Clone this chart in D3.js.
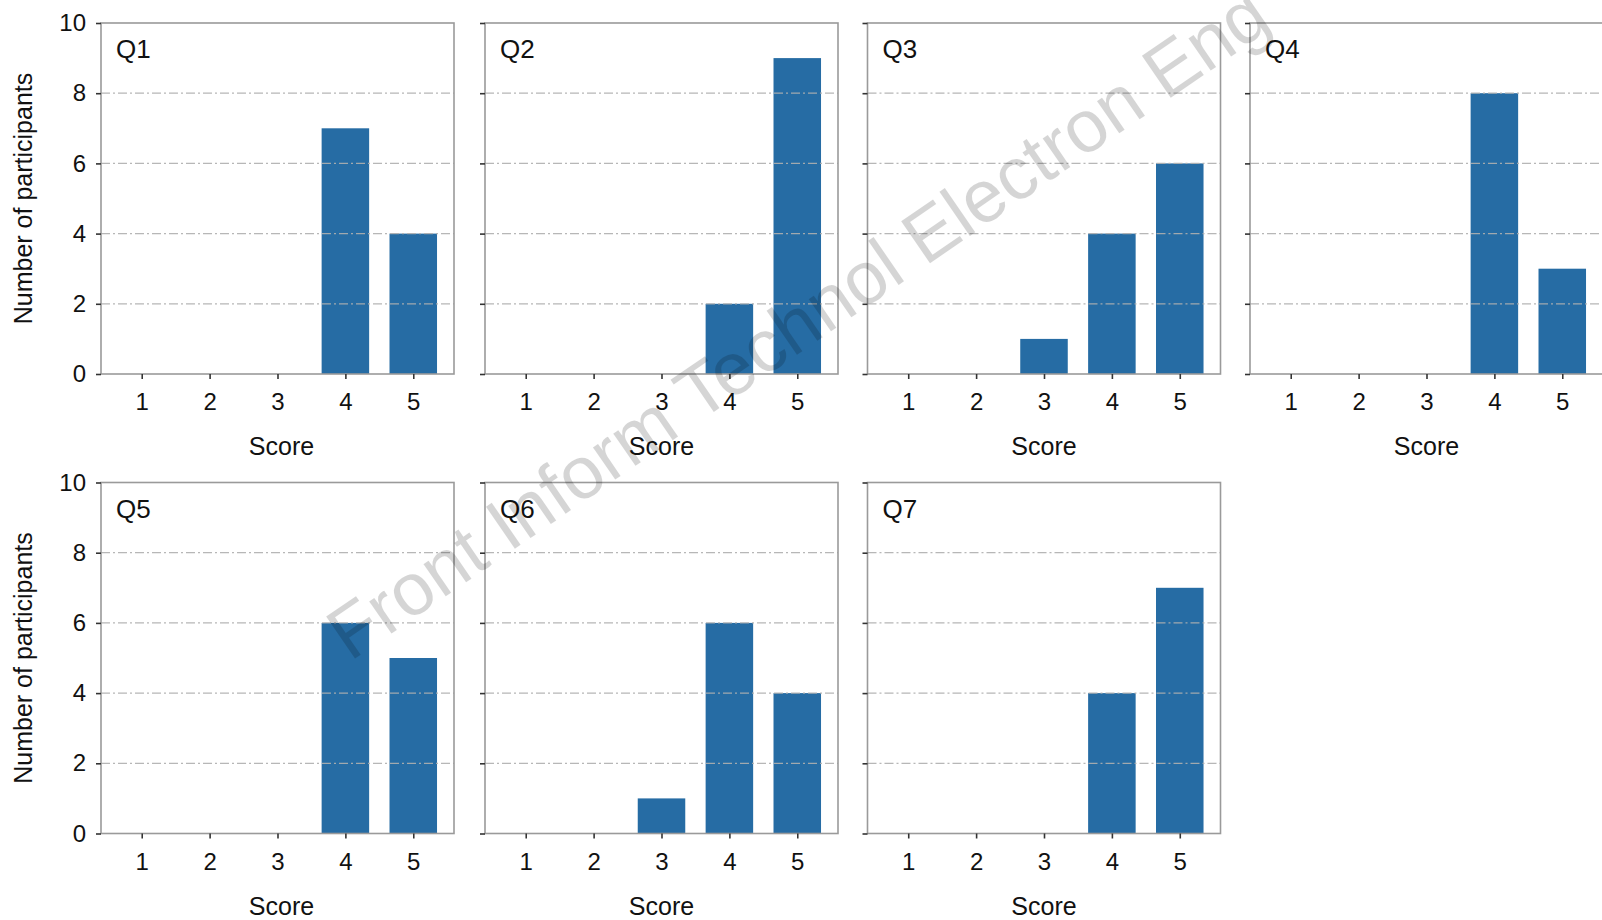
<!DOCTYPE html>
<html>
<head>
<meta charset="utf-8">
<script src="https://cdn.jsdelivr.net/npm/d3@7"></script>
<style>
  html, body { margin: 0; padding: 0; background: #fff; }
  svg { display: block; font-family: "Liberation Sans", Arial, sans-serif; }
</style>
</head>
<body>
<svg id="chart" width="1602" height="920"></svg>
<script>
// ---- data ----
const questions = ["Q1", "Q2", "Q3", "Q4", "Q5", "Q6", "Q7"];
const scores = [1, 2, 3, 4, 5];
const q1 = [0, 0, 0, 7, 4];
const q2 = [0, 0, 0, 2, 9];
const q3 = [0, 0, 1, 4, 6];
const q4 = [0, 0, 0, 8, 3];
const q5 = [0, 0, 0, 6, 5];
const q6 = [0, 0, 1, 6, 4];
const q7 = [0, 0, 0, 4, 7];
const yTicks = [0, 2, 4, 6, 8, 10];
const gridValues = [2, 4, 6, 8];
const xLabel = "Score";
const yLabel = "Number of participants";
const watermark = "Front Inform Technol Electron Eng";

const seriesList = [q1, q2, q3, q4, q5, q6, q7];

// ---- layout ----
const svg = d3.select("#chart");
const panelW = 353;
const colLefts = [101, 485, 867.5, 1250];
const rowTops = [23, 482.5];
const panelH = 351;
const barColor = "#266ca4";

questions.forEach((q, i) => {
  const row = Math.floor(i / 4), col = i % 4;
  const left = colLefts[col], top = rowTops[row];
  const x = d3.scaleLinear().domain([0.4, 5.6]).range([0, panelW]);
  const y = d3.scaleLinear().domain([0, 10]).range([panelH, 0]);
  const g = svg.append("g").attr("transform", `translate(${left},${top})`);
  const vals = seriesList[i];
  const bw = x(1.7) - x(1);

  // bars
  g.selectAll("rect.bar").data(scores.map((s, k) => ({ s, v: vals[k] })).filter(d => d.v > 0))
    .enter().append("rect")
    .attr("x", d => x(d.s) - bw / 2)
    .attr("width", bw)
    .attr("y", d => y(d.v))
    .attr("height", d => y(0) - y(d.v))
    .attr("fill", barColor);

  // gridlines (drawn over bars)
  g.selectAll("line.grid").data(gridValues).enter().append("line")
    .attr("x1", 0).attr("x2", panelW)
    .attr("y1", d => y(d)).attr("y2", d => y(d))
    .attr("stroke", "#b0b0b0").attr("stroke-width", 1.3)
    .attr("stroke-dasharray", "9,3,2,3")
    .attr("opacity", 0.9);

  // frame
  g.append("rect").attr("x", 0).attr("y", 0).attr("width", panelW).attr("height", panelH)
    .attr("fill", "none").attr("stroke", "#9a9a9a").attr("stroke-width", 1.6);

  // y axis ticks
  const yAxis = d3.axisLeft(y).tickValues(yTicks).tickSize(5).tickPadding(10)
    .tickFormat(col === 0 ? d3.format("d") : () => "");
  const ya = g.append("g").call(yAxis);
  ya.select(".domain").remove();
  ya.selectAll("line").attr("stroke", "#333").attr("stroke-width", 1.6);
  ya.selectAll("text").attr("font-size", 24).attr("fill", "#111")
    .attr("font-family", "Liberation Sans, Arial, sans-serif");

  // x axis ticks
  const xAxis = d3.axisBottom(x).tickValues(scores).tickSize(5).tickPadding(14).tickFormat(d3.format("d"));
  const xa = g.append("g").attr("transform", `translate(0,${panelH})`).call(xAxis);
  xa.select(".domain").remove();
  xa.selectAll("line").attr("stroke", "#333").attr("stroke-width", 1.6);
  xa.selectAll("text").attr("font-size", 24).attr("fill", "#111")
    .attr("font-family", "Liberation Sans, Arial, sans-serif");

  // x label
  g.append("text").attr("x", panelW / 2 + (col === 0 ? 4 : 0)).attr("y", panelH + 81)
    .attr("text-anchor", "middle").attr("font-size", 25).attr("fill", "#111").text(xLabel);

  // panel title
  g.append("text").attr("x", 15).attr("y", 35)
    .attr("font-size", 26).attr("fill", "#111").text(q);

  // y label
  if (col === 0) {
    g.append("text")
      .attr("transform", `translate(${-69},${panelH / 2}) rotate(-90)`)
      .attr("text-anchor", "middle").attr("font-size", 25).attr("fill", "#111")
      .text(yLabel);
  }
});

// watermark
svg.append("text")
  .attr("transform", "translate(350,662) rotate(-34.5)")
  .attr("font-size", 74).attr("fill", "#000").attr("opacity", 0.16)
  .text(watermark);
</script>
</body>
</html>
